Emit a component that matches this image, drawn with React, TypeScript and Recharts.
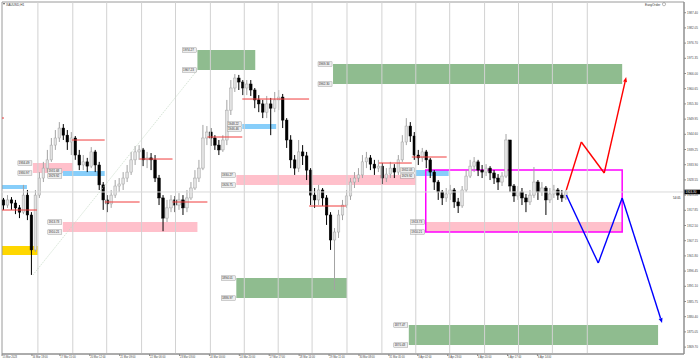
import React from "react";
import {
  ComposedChart,
  Bar,
  XAxis,
  YAxis,
  ReferenceArea,
  ReferenceLine,
  ReferenceDot,
} from "recharts";

// XAUUSD H1, one slot per candle (prices)
const closes = [
  1919.7, 1921.5, 1920.4, 1918.7, 1917.2, 1923.2, 1916.2, 1903.9, 1923.2, 1929.2,
  1932.7, 1935.6, 1940.8, 1943.3, 1946.8, 1944.3, 1941.9, 1943.3, 1937.3, 1933.8,
  1934.9, 1933.4, 1938.4, 1933.8, 1926.8, 1921.5, 1920.1, 1923.2, 1926.4, 1927.1,
  1929.2, 1931.3, 1935.6, 1938.4, 1939.1, 1935.6, 1936.3, 1935.6, 1929.2, 1922.2,
  1915.1, 1918.7, 1921.5, 1919.7, 1921.5, 1918.7, 1922.2, 1925.7, 1929.2, 1932.7,
  1943.3, 1945.4, 1943.3, 1940.8, 1939.1, 1942.6, 1953.1, 1960.9, 1964.4, 1963.0,
  1960.9, 1962.3, 1960.2, 1956.7, 1955.3, 1952.4, 1955.3, 1953.8, 1956.7, 1957.7,
  1949.6, 1942.6, 1935.6, 1932.7, 1938.4, 1937.0, 1932.0, 1923.2, 1921.5, 1925.0,
  1922.2, 1916.2, 1907.4, 1910.2, 1916.2, 1919.7, 1922.9, 1927.8, 1929.2, 1930.3,
  1934.9, 1936.3, 1934.1, 1932.7, 1933.4, 1929.2, 1930.6, 1932.7, 1931.3, 1935.6,
  1941.9, 1947.5, 1944.0, 1937.3, 1936.3, 1938.4, 1935.6, 1931.3, 1927.8, 1924.3,
  1922.2, 1923.6, 1925.0, 1920.8, 1919.4, 1925.0, 1929.9, 1933.4, 1934.9, 1932.0,
  1931.3, 1932.7, 1931.0, 1929.2, 1927.8, 1929.9, 1942.6, 1926.4, 1922.9, 1924.3,
  1922.2, 1920.8, 1923.2, 1927.8, 1924.3, 1925.7, 1921.5, 1923.6, 1925.0, 1923.2,
  1922.2, 1924.3,
];
const highs = [
  1922.2, 1923.2, 1922.5, 1921.5, 1919.7, 1926.8, 1925.0, 1917.2, 1925.0, 1931.3,
  1934.9, 1939.1, 1943.3, 1946.1, 1948.9, 1948.2, 1946.1, 1945.4, 1944.0, 1939.1,
  1937.3, 1936.3, 1940.1, 1939.1, 1934.9, 1927.8, 1923.2, 1925.0, 1928.5, 1929.2,
  1931.3, 1933.8, 1938.4, 1940.5, 1940.8, 1939.8, 1938.4, 1938.0, 1937.3, 1930.3,
  1923.2, 1921.5, 1923.2, 1922.9, 1923.9, 1923.2, 1925.0, 1927.8, 1932.0, 1935.6,
  1947.9, 1947.5, 1946.8, 1944.3, 1942.6, 1944.3, 1956.7, 1963.7, 1965.8, 1965.5,
  1963.7, 1963.7, 1963.7, 1960.9, 1958.4, 1956.7, 1958.1, 1957.4, 1959.5, 1960.2,
  1958.8, 1950.3, 1944.3, 1937.3, 1942.6, 1940.8, 1938.4, 1932.7, 1925.7, 1926.8,
  1925.7, 1923.2, 1917.2, 1911.6, 1918.0, 1921.5, 1925.0, 1929.2, 1931.3, 1932.7,
  1937.3, 1938.4, 1937.3, 1935.6, 1935.6, 1934.5, 1932.7, 1934.9, 1934.1, 1937.3,
  1944.3, 1950.3, 1948.9, 1945.4, 1939.1, 1939.8, 1939.1, 1936.3, 1932.0, 1928.5,
  1925.0, 1925.7, 1926.8, 1925.7, 1922.2, 1926.4, 1932.0, 1935.6, 1936.6, 1935.6,
  1933.8, 1934.1, 1933.4, 1932.0, 1930.6, 1931.3, 1944.7, 1942.6, 1927.1, 1926.4,
  1925.7, 1923.6, 1925.0, 1933.1, 1928.5, 1927.8, 1926.4, 1925.7, 1926.8, 1925.7,
  1925.0, 1925.0,
];
const lows = [
  1918.0, 1918.7, 1918.0, 1916.5, 1915.1, 1916.5, 1914.4, 1895.1, 1903.2, 1922.2,
  1927.8, 1931.3, 1934.9, 1939.1, 1941.9, 1942.6, 1939.1, 1937.3, 1935.6, 1932.0,
  1932.0, 1931.3, 1932.7, 1931.3, 1925.0, 1918.0, 1917.2, 1918.7, 1922.2, 1924.3,
  1925.0, 1927.8, 1930.3, 1933.8, 1935.6, 1933.4, 1932.7, 1932.0, 1927.8, 1919.7,
  1910.5, 1913.7, 1917.2, 1917.2, 1918.0, 1916.2, 1917.2, 1921.5, 1925.0, 1927.8,
  1932.0, 1940.8, 1940.5, 1939.1, 1937.3, 1938.4, 1940.8, 1951.4, 1959.5, 1960.2,
  1958.4, 1958.4, 1958.1, 1953.8, 1952.4, 1950.3, 1950.3, 1944.3, 1952.4, 1953.1,
  1946.8, 1939.8, 1932.7, 1930.3, 1931.3, 1933.8, 1928.5, 1919.7, 1918.7, 1919.7,
  1919.4, 1912.7, 1903.9, 1889.8, 1908.1, 1914.4, 1918.7, 1921.5, 1925.7, 1927.8,
  1929.2, 1932.7, 1932.0, 1930.3, 1931.3, 1927.1, 1927.8, 1929.2, 1929.2, 1930.3,
  1934.9, 1940.8, 1941.9, 1935.6, 1933.8, 1934.9, 1932.7, 1929.2, 1925.0, 1921.5,
  1919.7, 1920.8, 1921.5, 1918.7, 1916.9, 1918.7, 1924.3, 1929.2, 1931.3, 1929.9,
  1929.2, 1929.9, 1928.5, 1927.1, 1925.0, 1926.4, 1929.2, 1924.3, 1920.8, 1921.5,
  1919.7, 1917.2, 1919.7, 1922.2, 1921.5, 1922.9, 1916.2, 1920.4, 1922.2, 1921.5,
  1920.8, 1921.5,
];
const firstOpen = 1921.5;
const shiftBars = 29; // empty space right of the last candle

const timeLabels = [
  "15 Mar 2023", "16 Mar 18:00", "17 Mar 15:00", "20 Mar 12:00", "21 Mar 09:00",
  "22 Mar 06:00", "23 Mar 03:00", "24 Mar 00:00", "24 Mar 20:00", "27 Mar 17:00",
  "28 Mar 14:00", "29 Mar 11:00", "30 Mar 08:00", "31 Mar 05:00", "3 Apr 02:00",
  "3 Apr 23:00", "4 Apr 20:00", "5 Apr 17:00", "6 Apr 14:00",
];
const timeTicks = [
  -0.5, 7, 14, 21.5, 29, 36.5, 44, 51.5, 59, 66.5, 74, 81.5, 89, 96.5, 103.75,
  111.25, 118.75, 126.25, 133.75,
];
const priceTicks = [
  1987.4, 1982.05, 1976.7, 1971.35, 1966.0, 1960.65, 1955.3, 1949.95, 1944.6,
  1939.25, 1933.9, 1928.55, 1923.2, 1917.85, 1912.5, 1907.15, 1901.8, 1896.45,
  1891.1, 1885.75, 1880.4, 1875.05, 1869.7,
];
const separators = [
  8.5, 17.25, 25.75, 34.5, 43, 51.75, 60.25, 68.75, 77.25, 86, 94.75, 103.25,
  111.75, 120.5, 129, 137.5, 146.25,
];

// zones: [fromBar, toBar, top, bottom]
const greenZones = [
  [48.5, 63, 1974.27, 1967.23],
  [82.5, 155, 1969.34, 1962.3],
  [58.25, 86, 1894.01, 1886.97],
  [101.5, 164, 1877.47, 1870.43],
];
const pinkZones = [
  [7.25, 17.25, 1934.49, 1930.97],
  [14.75, 48.5, 1913.73, 1910.21],
  [58.25, 103.25, 1930.27, 1926.75],
  [105.75, 155, 1913.73, 1910.21],
];
const blueZones = [
  [14.75, 25.25, 1931.68, 1929.92],
  [59.75, 68.25, 1948.22, 1946.46],
  [103.25, 111.5, 1932.03, 1929.92],
];
const edgeBlue = [-0.5, 5.75, 1926.75, 1925.34];
const goldZone = [-0.5, 8.5, 1905.28, 1902.11];
const rangeBox = [105.75, 155, 1932.03, 1910.21];

// [fromBar, toBar, price]
const redLevels = [
  [-0.5, 0, 1950.33],
  [-0.5, 8.25, 1917.95],
  [17, 25.25, 1942.59],
  [25.25, 34, 1920.77],
  [34, 42.25, 1935.9],
  [42.25, 51, 1920.77],
  [51, 59.75, 1943.65],
  [59.75, 76.5, 1957.02],
  [76.5, 85.75, 1919.36],
  [94, 102.25, 1934.49],
  [102.25, 111, 1936.61],
];

const bullPath = [
  [141, 1924.99],
  [144.75, 1941.89],
  [150.5, 1930.97],
  [156, 1964.77],
];
const bearPath = [
  [141, 1923.23],
  [149, 1899.29],
  [155, 1922.17],
  [165, 1878.17],
];
const trendLine = [
  [7.25, 1895.07],
  [48.5, 1967.23],
];

const bid = 1924.3;
const countdown = "54:05";
const symbol = "XAUUSD,H1";

const priceMin = 1867.27;
const priceMax = 1991.17;
const xMin = -0.5;
const xMax = closes.length + shiftBars - 0.5;

const FONT = "'Liberation Sans', Arial, sans-serif";

const rows = Array.from({ length: closes.length + shiftBars }, (_, i) => {
  if (i >= closes.length) return { i };
  const o = i === 0 ? firstOpen : closes[i - 1];
  const c = closes[i];
  const h = Math.max(highs[i], o, c);
  const l = Math.min(lows[i], o, c);
  return { i, o, c, h, l, range: [l, h] };
});

function Candle(props: any) {
  const { x, y, width, height, payload } = props;
  if (!payload || payload.o == null) return null;
  const { o, c, h, l } = payload;
  const toPx = (v: number) => (h === l ? y : y + ((h - v) / (h - l)) * height);
  const cx = x + width / 2;
  const up = c >= o;
  const top = toPx(Math.max(o, c));
  const bot = toPx(Math.min(o, c));
  const col = up ? "#a3a3a3" : "#000";
  return (
    <g>
      <line x1={cx} x2={cx} y1={y} y2={y + height} stroke={col} strokeWidth={1} />
      <rect
        x={cx - 1.3}
        y={top}
        width={2.6}
        height={Math.max(bot - top, 0.8)}
        fill={up ? "#e2e2e2" : "#000"}
        stroke={col}
        strokeWidth={0.5}
      />
    </g>
  );
}

function PriceTag({ cx, cy, text }: { cx: number; cy: number; text: string }) {
  return (
    <g>
      <rect x={cx - 15} y={cy - 2.2} width={14} height={4.4} fill="#ededed" stroke="#8a8a8a" strokeWidth={0.4} />
      <text x={cx - 14.4} y={cy + 1.1} fontSize={3} fill="#333" fontFamily={FONT}>
        {text}
      </text>
    </g>
  );
}

function Arrow(props: any) {
  const { x1, y1, x2, y2, color, head } = props;
  const ang = Math.atan2(y2 - y1, x2 - x1);
  const L = 5;
  const W = 2;
  const bx = x2 - L * Math.cos(ang);
  const by = y2 - L * Math.sin(ang);
  const px = -Math.sin(ang) * W;
  const py = Math.cos(ang) * W;
  return (
    <g>
      <line x1={x1} y1={y1} x2={head ? bx : x2} y2={head ? by : y2} stroke={color} strokeWidth={1.4} />
      {head && (
        <polygon points={`${x2},${y2} ${bx + px},${by + py} ${bx - px},${by - py}`} fill={color} />
      )}
    </g>
  );
}

function TimeTick(props: any) {
  const { x, y, payload } = props;
  const k = timeTicks.indexOf(payload.value);
  return (
    <text x={x + 0.5} y={y + 2.2} fontSize={2.6} fill="#444" fontFamily={FONT} textAnchor="start">
      {timeLabels[k]}
    </text>
  );
}

function zoneArea(z: number[], fill: string, key: string) {
  return (
    <ReferenceArea
      key={key}
      xAxisId="n"
      x1={z[0]}
      x2={z[1]}
      y1={z[3]}
      y2={z[2]}
      fill={fill}
      fillOpacity={1}
      stroke="none"
      ifOverflow="hidden"
    />
  );
}

function zoneTags(z: number[], key: string) {
  return [z[2], z[3]].map((p, j) => (
    <ReferenceDot
      key={`${key}-${j}`}
      xAxisId="n"
      x={z[0]}
      y={p}
      r={0}
      ifOverflow="visible"
      shape={(d: any) => <PriceTag cx={d.cx} cy={d.cy} text={p.toFixed(2)} />}
    />
  ));
}

function pathLines(path: number[][], color: string, key: string) {
  return path.slice(1).map((pt, j) => (
    <ReferenceLine
      key={`${key}-${j}`}
      xAxisId="n"
      segment={[
        { x: path[j][0], y: path[j][1] },
        { x: pt[0], y: pt[1] },
      ]}
      ifOverflow="visible"
      shape={(p: any) => <Arrow {...p} color={color} head={j === path.length - 2} />}
    />
  ));
}

export default function App() {
  return (
    <div style={{ position: "absolute", left: 0, top: 0, width: 700, height: 362, background: "#fff" }}>
      <ComposedChart
        width={700}
        height={362}
        data={rows}
        margin={{ top: 2, right: 0, bottom: 0, left: 2 }}
        style={{ fontFamily: FONT }}
      >
        <XAxis xAxisId="c" dataKey="i" type="category" orientation="top" height={0} hide />
        <XAxis
          xAxisId="n"
          dataKey="i"
          type="number"
          domain={[xMin, xMax]}
          allowDataOverflow
          ticks={timeTicks}
          interval={0}
          height={8}
          tickSize={2}
          tickMargin={0}
          axisLine={{ stroke: "#8a8a8a" }}
          tickLine={{ stroke: "#8a8a8a" }}
          tick={<TimeTick />}
        />
        <YAxis
          orientation="right"
          type="number"
          domain={[priceMin, priceMax]}
          allowDataOverflow
          ticks={priceTicks}
          interval={0}
          width={16}
          tickSize={2}
          tickMargin={1}
          axisLine={{ stroke: "#8a8a8a" }}
          tickLine={{ stroke: "#8a8a8a" }}
          tick={{ fontSize: 3, fill: "#444", fontFamily: FONT }}
          tickFormatter={(v: number) => v.toFixed(2)}
        />

        {greenZones.map((z, k) => zoneArea(z, "#8fbc8f", `g${k}`))}
        {pinkZones.map((z, k) => zoneArea(z, "#ffc0cb", `p${k}`))}
        {blueZones.map((z, k) => zoneArea(z, "#87cefa", `b${k}`))}
        {zoneArea(edgeBlue, "#87cefa", "eb")}
        {zoneArea(goldZone, "#ffd700", "gold")}

        {separators.map((v) => (
          <ReferenceLine key={`s${v}`} xAxisId="n" x={v} stroke="#d2d2d2" strokeWidth={1} />
        ))}
        <ReferenceLine xAxisId="n" y={bid} stroke="#d9d9d9" strokeWidth={1} />

        <ReferenceLine
          xAxisId="n"
          segment={[
            { x: trendLine[0][0], y: trendLine[0][1] },
            { x: trendLine[1][0], y: trendLine[1][1] },
          ]}
          stroke="#c4d8c4"
          strokeWidth={0.7}
          strokeDasharray="1.5 1"
        />

        <Bar
          xAxisId="c"
          dataKey="range"
          barSize={3}
          isAnimationActive={false}
          shape={<Candle />}
        />

        {redLevels.map((r, k) => (
          <ReferenceLine
            key={`r${k}`}
            xAxisId="n"
            segment={[
              { x: r[0], y: r[2] },
              { x: r[1], y: r[2] },
            ]}
            stroke="#f03c3c"
            strokeWidth={1}
          />
        ))}

        <ReferenceArea
          xAxisId="n"
          x1={rangeBox[0]}
          x2={rangeBox[1]}
          y1={rangeBox[3]}
          y2={rangeBox[2]}
          fill="none"
          stroke="#ff00ff"
          strokeWidth={1.5}
        />

        {greenZones.map((z, k) => zoneTags(z, `gt${k}`))}
        {pinkZones.map((z, k) => zoneTags(z, `pt${k}`))}
        {blueZones.map((z, k) => zoneTags(z, `bt${k}`))}

        {pathLines(bullPath, "#ff0000", "bull")}
        {pathLines(bearPath, "#0000ff", "bear")}

        <ReferenceArea
          xAxisId="n"
          x1={xMin}
          x2={xMax}
          y1={priceMin}
          y2={priceMax}
          fill="none"
          stroke="#9a9a9a"
          strokeWidth={1}
        />

        <ReferenceDot
          xAxisId="n"
          x={xMax}
          y={bid}
          r={0}
          ifOverflow="visible"
          shape={(d: any) => (
            <g>
              <rect x={d.cx + 0.5} y={d.cy - 2.3} width={15.5} height={4.6} fill="#000" />
              <text x={d.cx + 1.5} y={d.cy + 1.1} fontSize={3} fill="#fff" fontFamily={FONT}>
                {bid.toFixed(2)}
              </text>
              <text x={d.cx - 11} y={d.cy + 7.5} fontSize={3} fill="#222" fontFamily={FONT}>
                {countdown}
              </text>
            </g>
          )}
        />
      </ComposedChart>
      <svg
        width={700}
        height={362}
        style={{ position: "absolute", left: 0, top: 0, pointerEvents: "none" }}
      >
        <polygon points="3,3 5,3 4,5" fill="#555" />
        <text x={6} y={5.5} fontSize={3.2} fill="#333" fontFamily={FONT}>
          {symbol}
        </text>
        <text x={645} y={5.5} fontSize={3.2} fill="#333" fontFamily={FONT}>
          EasyOrder
        </text>
        <circle cx={664} cy={4.2} r={1.6} fill="none" stroke="#777" strokeWidth={0.5} />
      </svg>
    </div>
  );
}
